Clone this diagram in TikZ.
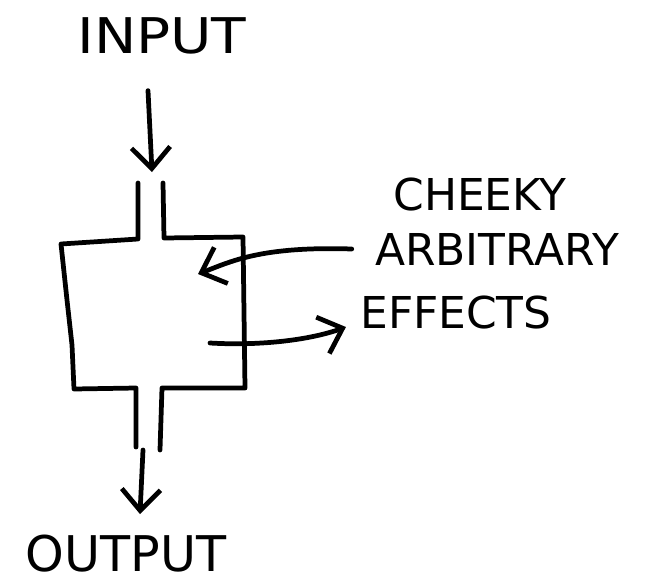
\documentclass[tikz,border=0pt]{standalone}
\usepackage{fontspec}
\setmainfont{DejaVu Sans}
\usetikzlibrary{arrows.meta}

\tikzset{
  sketch/.style={line width=2.7pt, line cap=round, line join=round},
  handarrow/.style={sketch, -{Straight Barb[length=12pt,width=22pt]}},
  word/.style={inner sep=0pt, font=\fontsize{28}{30}\selectfont},
  note/.style={inner sep=0pt, font=\fontsize{25}{28}\selectfont},
}

\begin{document}
\begin{tikzpicture}[x=0.02cm, y=-0.02cm]
\useasboundingbox (0,0) rectangle (646,585);
% labels
\node[word, xscale=1.15] (in) at (162,36) {INPUT};
\node[word] (out) at (126,554) {OUTPUT};
\node[note] (cheeky) at (480,195) {CHEEKY};
\node[note] (arb) at (497,249) {ARBITRARY};
\node[note] (fx) at (456,313) {EFFECTS};
% pipe ends and points inside the box
\coordinate (topin) at (152,172);
\coordinate (botout) at (143,450);
\coordinate (sidein) at (198,274);
\coordinate (sideout) at (210,343);
% the box with its two pipes
\draw[sketch] (138,183) -- (138,239) -- (61,244) -- (67,300) -- (72,345) -- (74,389)
  -- (136,388) -- (136,447);
\draw[sketch] (163,183) -- (164,238) -- (243,237) -- (245,388) -- (162,388) -- (160,450);
% arrows
\draw[handarrow] ([shift={(-14,36)}]in.south) -- (topin);
\draw[handarrow] (botout) -- ([shift={(14,-21)}]out.north);
\draw[handarrow] ([xshift=-0.46cm]arb.west) .. controls (260,246) and (230,262) .. (sidein);
\draw[handarrow] (sideout) .. controls (260,346) and (310,340) .. ([shift={(-14,14)}]fx.west);
\end{tikzpicture}
\end{document}
